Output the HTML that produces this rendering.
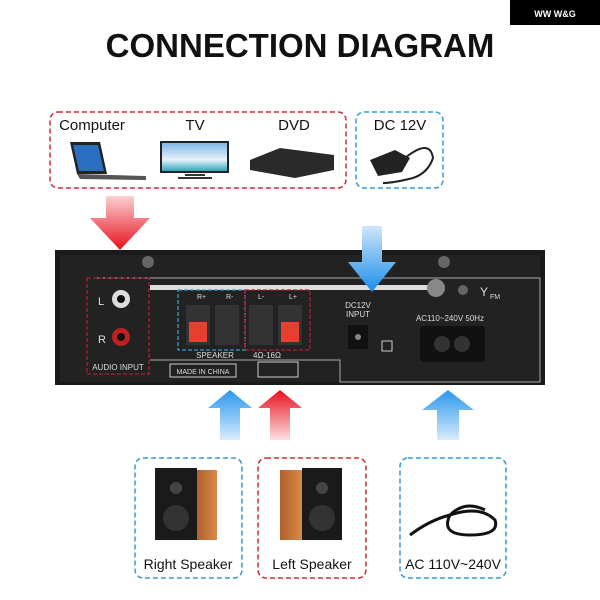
<!DOCTYPE html>
<html><head><style>body{margin:0;background:#fff}svg{display:block}text{font-family:"Liberation Sans",sans-serif}</style></head><body>
<svg width="600" height="600" viewBox="0 0 600 600" xmlns="http://www.w3.org/2000/svg">
<defs>
<linearGradient id="rd" x1="0" y1="0" x2="0" y2="1"><stop offset="0" stop-color="#fbd0d4"/><stop offset="1" stop-color="#e8101c"/></linearGradient>
<linearGradient id="ru" x1="0" y1="1" x2="0" y2="0"><stop offset="0" stop-color="#fde0e2"/><stop offset="1" stop-color="#e8101c"/></linearGradient>
<linearGradient id="bd" x1="0" y1="0" x2="0" y2="1"><stop offset="0" stop-color="#cfe6fb"/><stop offset="1" stop-color="#1a8ee8"/></linearGradient>
<linearGradient id="bu" x1="0" y1="1" x2="0" y2="0"><stop offset="0" stop-color="#d8ecfc"/><stop offset="1" stop-color="#2a96ec"/></linearGradient>
<linearGradient id="sky" x1="0" y1="0" x2="0" y2="1"><stop offset="0" stop-color="#7fb7e6"/><stop offset="0.6" stop-color="#e8f2fa"/><stop offset="1" stop-color="#2aa8b8"/></linearGradient>
<linearGradient id="wood" x1="0" y1="0" x2="1" y2="0"><stop offset="0" stop-color="#b0602a"/><stop offset="1" stop-color="#d88a48"/></linearGradient>
</defs>
<rect x="510" y="0" width="90" height="25" fill="#000"/>
<text x="555" y="17" fill="#fff" font-size="9" font-weight="bold" text-anchor="middle">WW W&amp;G</text>
<text x="300" y="57" font-size="33" font-weight="bold" text-anchor="middle" fill="#111">CONNECTION DIAGRAM</text>

<rect x="50" y="112" width="296" height="76" rx="8" fill="none" stroke="#c8303a" stroke-width="1.5" stroke-dasharray="5,3"/>
<rect x="356" y="112" width="87" height="76" rx="8" fill="none" stroke="#3a9ac8" stroke-width="1.5" stroke-dasharray="5,3"/>
<text x="92" y="130" font-size="15" text-anchor="middle" fill="#111">Computer</text>
<text x="195" y="130" font-size="15" text-anchor="middle" fill="#111">TV</text>
<text x="294" y="130" font-size="15" text-anchor="middle" fill="#111">DVD</text>
<text x="400" y="130" font-size="15" text-anchor="middle" fill="#111">DC 12V</text>
<!-- laptop -->
<polygon points="70,142 100,142 107,174 77,174" fill="#222"/><polygon points="73,145 98,145 104,171 79,171" fill="#2a6fc0"/>
<polygon points="77,174 146,176 146,180 80,179" fill="#555"/>
<!-- tv -->
<rect x="160" y="141" width="69" height="32" fill="#222"/><rect x="162" y="143" width="65" height="28" fill="url(#sky)"/>
<rect x="185" y="174" width="20" height="2" fill="#333"/><rect x="178" y="177" width="34" height="2" fill="#333"/>
<!-- dvd -->
<polygon points="250,160 280,148 334,155 334,170 295,178 250,170" fill="#2a2a2a"/>
<!-- adapter -->
<polygon points="370,160 395,150 410,158 402,172 378,176" fill="#222"/><path d="M405,158 q25,-20 28,0 q-5,15 -20,20 q-20,5 -30,5" stroke="#222" stroke-width="2" fill="none"/>

<polygon points="106,196 134,196 134,218 150,218 120,250 90,218 106,218" fill="url(#rd)"/>

<!-- panel -->
<rect x="55" y="250" width="490" height="135" fill="#1a1a1a"/>
<rect x="60" y="255" width="480" height="127" fill="#222"/>
<path d="M95,278 H540 V382 H340 V360 H150" fill="none" stroke="#aaa" stroke-width="1"/>
<rect x="87" y="278" width="62" height="96" fill="none" stroke="#b02030" stroke-width="1.3" stroke-dasharray="4,2"/>
<text x="98" y="305" font-size="11" fill="#ddd">L</text><text x="98" y="343" font-size="11" fill="#ddd">R</text>
<circle cx="121" cy="299" r="9" fill="#ddd"/><circle cx="121" cy="299" r="4" fill="#111"/>
<circle cx="121" cy="337" r="9" fill="#c02020"/><circle cx="121" cy="337" r="4" fill="#111"/>
<text x="118" y="370" font-size="8" fill="#ddd" text-anchor="middle">AUDIO INPUT</text>
<rect x="150" y="285" width="280" height="5" fill="#ddd"/><circle cx="436" cy="288" r="9" fill="#888"/>
<circle cx="148" cy="262" r="6" fill="#666"/><circle cx="444" cy="262" r="6" fill="#666"/><circle cx="463" cy="290" r="5" fill="#666"/>
<text x="480" y="296" font-size="12" fill="#ddd">Y</text><text x="490" y="299" font-size="7" fill="#ddd">FM</text>
<rect x="178" y="290" width="67" height="60" fill="none" stroke="#3a9ac8" stroke-width="1.3" stroke-dasharray="4,2"/>
<rect x="245" y="290" width="65" height="60" fill="none" stroke="#b02030" stroke-width="1.3" stroke-dasharray="4,2"/>
<text x="197" y="299" font-size="7" fill="#ddd">R+</text><text x="226" y="299" font-size="7" fill="#ddd">R-</text>
<text x="258" y="299" font-size="7" fill="#ddd">L-</text><text x="289" y="299" font-size="7" fill="#ddd">L+</text>
<rect x="186" y="305" width="24" height="40" fill="#333"/><rect x="189" y="322" width="18" height="20" fill="#e84030"/>
<rect x="215" y="305" width="24" height="40" fill="#333"/>
<rect x="249" y="305" width="24" height="40" fill="#333"/>
<rect x="278" y="305" width="24" height="40" fill="#333"/><rect x="281" y="322" width="18" height="20" fill="#e84030"/>
<text x="215" y="358" font-size="8" fill="#ddd" text-anchor="middle">SPEAKER</text><text x="267" y="358" font-size="8" fill="#ddd" text-anchor="middle">4Ω-16Ω</text>
<rect x="170" y="364" width="66" height="13" fill="none" stroke="#ccc"/><text x="203" y="374" font-size="7" fill="#ddd" text-anchor="middle">MADE IN CHINA</text>
<rect x="258" y="362" width="40" height="15" fill="none" stroke="#ccc"/>
<text x="358" y="308" font-size="8" fill="#ddd" text-anchor="middle">DC12V</text><text x="358" y="317" font-size="8" fill="#ddd" text-anchor="middle">INPUT</text>
<rect x="348" y="325" width="20" height="24" fill="#111"/><circle cx="358" cy="337" r="3" fill="#888"/>
<rect x="382" y="341" width="10" height="10" fill="none" stroke="#ccc"/>
<text x="450" y="321" font-size="8" fill="#ddd" text-anchor="middle">AC110~240V 50Hz</text>
<rect x="420" y="326" width="65" height="36" rx="4" fill="#111"/><circle cx="442" cy="344" r="8" fill="#333"/><circle cx="462" cy="344" r="8" fill="#333"/>

<polygon points="362,226 382,226 382,262 396,262 372,292 348,262 362,262" fill="url(#bd)"/>

<polygon points="230,390 252,408 240,408 240,440 220,440 220,408 208,408" fill="url(#bu)"/>
<polygon points="280,390 302,408 290,408 290,440 270,440 270,408 258,408" fill="url(#ru)"/>
<polygon points="448,390 474,410 459,410 459,440 437,440 437,410 422,410" fill="url(#bu)"/>

<rect x="135" y="458" width="107" height="120" rx="8" fill="none" stroke="#3a9ac8" stroke-width="1.5" stroke-dasharray="5,3"/>
<rect x="258" y="458" width="108" height="120" rx="8" fill="none" stroke="#c8303a" stroke-width="1.5" stroke-dasharray="5,3"/>
<rect x="400" y="458" width="106" height="120" rx="8" fill="none" stroke="#3a9ac8" stroke-width="1.5" stroke-dasharray="5,3"/>
<!-- speakers -->
<rect x="155" y="468" width="42" height="72" fill="#1a1a1a"/><rect x="197" y="470" width="20" height="70" fill="url(#wood)"/>
<circle cx="176" cy="488" r="6" fill="#444"/><circle cx="176" cy="518" r="13" fill="#333"/>
<rect x="280" y="470" width="22" height="70" fill="url(#wood)"/><rect x="302" y="468" width="40" height="72" fill="#1a1a1a"/>
<circle cx="322" cy="488" r="6" fill="#444"/><circle cx="322" cy="518" r="13" fill="#333"/>
<path d="M410,535 q20,-15 40,-20 q30,-10 45,5 q5,15 -25,15 q-30,0 -20,-20 q15,-15 35,-5" stroke="#111" stroke-width="3" fill="none"/>
<text x="188" y="569" font-size="14" text-anchor="middle" fill="#111">Right Speaker</text>
<text x="312" y="569" font-size="14" text-anchor="middle" fill="#111">Left Speaker</text>
<text x="453" y="569" font-size="14" text-anchor="middle" fill="#111">AC 110V~240V</text>
</svg>
</body></html>
